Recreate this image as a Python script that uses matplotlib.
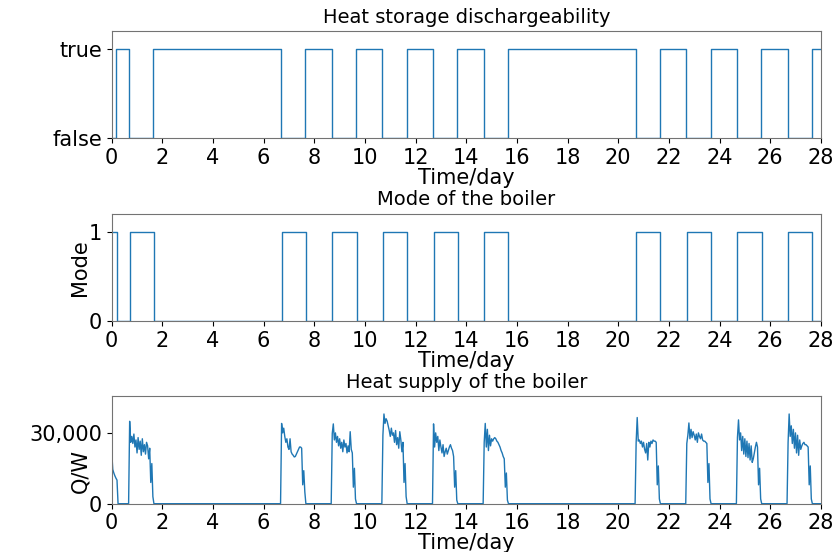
import numpy as np
import matplotlib
matplotlib.use('Agg')
import matplotlib.pyplot as plt
from matplotlib.ticker import FuncFormatter

# switching times (hours) and states of the heat storage dischargeability
discharge_hours = [0, 4, 16.5, 39, 160.5, 183.5, 208.5, 231.5, 256.5, 279.5, 304.5,
                   327.5, 352.5, 375.5, 496.5, 519.5, 544.5, 567.5, 592.5, 615.5,
                   640.5, 663.5]
discharge_states = [0, 1, 0, 1, 0, 1, 0, 1, 0, 1, 0, 1, 0, 1, 0, 1, 0, 1, 0, 1, 0, 1]

# switching times (hours) and states of the boiler mode
mode_hours = [0, 5, 17, 40, 161, 184, 209, 232, 257, 280, 305, 328, 353, 376,
              497, 520, 545, 568, 593, 616, 641, 664]
mode_states = [1, 0, 1, 0, 1, 0, 1, 0, 1, 0, 1, 0, 1, 0, 1, 0, 1, 0, 1, 0, 1, 0]

# heat supply, hourly values in W
heat_initial = [21800, 14500, 13000, 11800, 10800, 10000]
pulse_start = [17, 161, 209, 257, 305, 353, 497, 545, 593, 641]
pulse_values = [
    [34900, 26000, 28500, 25500, 29500, 24000, 27000, 21500, 28000, 23000, 26500, 20500,
     27500, 22000, 25000, 21000, 26000, 24500, 19000, 23500, 9000, 17000, 3000],
    [34000, 30000, 32000, 28500, 26000, 27500, 24000, 23000, 27500, 22000, 21000, 20500,
     19800, 20000, 21000, 22000, 23000, 24000, 24000, 23500, 8000, 14000, 5000],
    [29700, 33800, 27000, 30000, 26000, 28500, 24500, 27500, 23500, 26000, 22000, 27000,
     24000, 25500, 21500, 24500, 22000, 30500, 23000, 21500, 7000, 15000, 2000],
    [29000, 38000, 34000, 36000, 35000, 33000, 31000, 28500, 32000, 29000, 30000, 26000,
     31000, 25000, 28000, 23500, 30500, 27000, 22000, 26000, 9000, 17000, 3000],
    [33800, 24000, 30000, 26000, 28500, 22500, 27000, 24000, 21500, 25000, 20000, 22000,
     23500, 21000, 22500, 24000, 25000, 23500, 22500, 20000, 7000, 14000, 1500],
    [26000, 34000, 24000, 31500, 22500, 29000, 24500, 27500, 26500, 27500, 28000, 27500,
     26500, 26000, 25000, 24000, 22500, 21500, 20000, 19000, 7000, 13000, 1500],
    [26000, 36500, 26500, 27000, 25500, 26500, 24000, 26000, 23000, 21500, 25500, 18500,
     26000, 24000, 26500, 25500, 27000, 26500, 26500, 26000, 8000, 16000, 2000],
    [25500, 29000, 34200, 27500, 31500, 28000, 30500, 29000, 27000, 29500, 26000, 30000,
     28500, 27500, 29500, 27000, 26500, 26500, 26000, 25500, 9000, 17000, 2000],
    [28000, 35500, 27000, 30000, 22500, 28500, 21000, 27500, 20000, 26500, 19500, 25500,
     18500, 24500, 17500, 19000, 21500, 24000, 26000, 24000, 8000, 15000, 2000],
    [26000, 38000, 28500, 33000, 25500, 31500, 23500, 30000, 21500, 29000, 20500, 27000,
     23000, 24500, 25500, 26000, 25000, 25000, 24500, 24000, 8000, 16000, 2000],
]

total_hours = 28 * 24

# assemble hourly heat series
heat = np.zeros(total_hours + 1)
heat[:len(heat_initial)] = heat_initial
for start, vals in zip(pulse_start, pulse_values):
    heat[start:start + len(vals)] = vals
hours = np.arange(total_hours + 1)


def step_series(sw_hours, states):
    t = np.array(list(sw_hours) + [total_hours]) / 24.0
    s = np.array(list(states) + [states[-1]])
    return t, s


plt.rcParams['font.family'] = 'DejaVu Sans'
fig, axes = plt.subplots(3, 1, figsize=(8.35, 5.52), dpi=100)
fig.subplots_adjust(left=0.1338, right=0.983, top=0.9438, bottom=0.0875, hspace=0.70)

fs = 15
ax1, ax2, ax3 = axes

t, s = step_series(discharge_hours, discharge_states)
ax1.step(t, s, where='post', color='#1f77b4', lw=1.0)
ax1.set_ylim(0, 1.2)
ax1.set_yticks([0, 1])
ax1.set_yticklabels(['false', 'true'])
ax1.set_title('Heat storage dischargeability', fontsize=fs - 1)

t, s = step_series(mode_hours, mode_states)
ax2.step(t, s, where='post', color='#1f77b4', lw=1.0)
ax2.set_ylim(0, 1.2)
ax2.set_yticks([0, 1])
ax2.set_ylabel('Mode', fontsize=fs)
ax2.yaxis.set_label_coords(-0.03, 0.5)
ax2.set_title('Mode of the boiler', fontsize=fs - 1)

ax3.plot(hours / 24.0, heat, color='#1f77b4', lw=1.0)
ax3.set_ylim(0, 45500)
ax3.set_yticks([0, 30000])
ax3.yaxis.set_major_formatter(FuncFormatter(lambda v, p: '{:,.0f}'.format(v)))
ax3.set_ylabel('Q/W', fontsize=fs)
ax3.yaxis.set_label_coords(-0.03, 0.30)
ax3.set_title('Heat supply of the boiler', fontsize=fs - 1)

for ax in axes:
    ax.set_xlim(0, 28)
    ax.set_xticks(np.arange(0, 29, 2))
    ax.set_xlabel('Time/day', fontsize=fs, labelpad=0)
    ax.tick_params(labelsize=fs)
    for sp in ax.spines.values():
        sp.set_color('0.45')

fig.savefig('out.png', dpi=100)
